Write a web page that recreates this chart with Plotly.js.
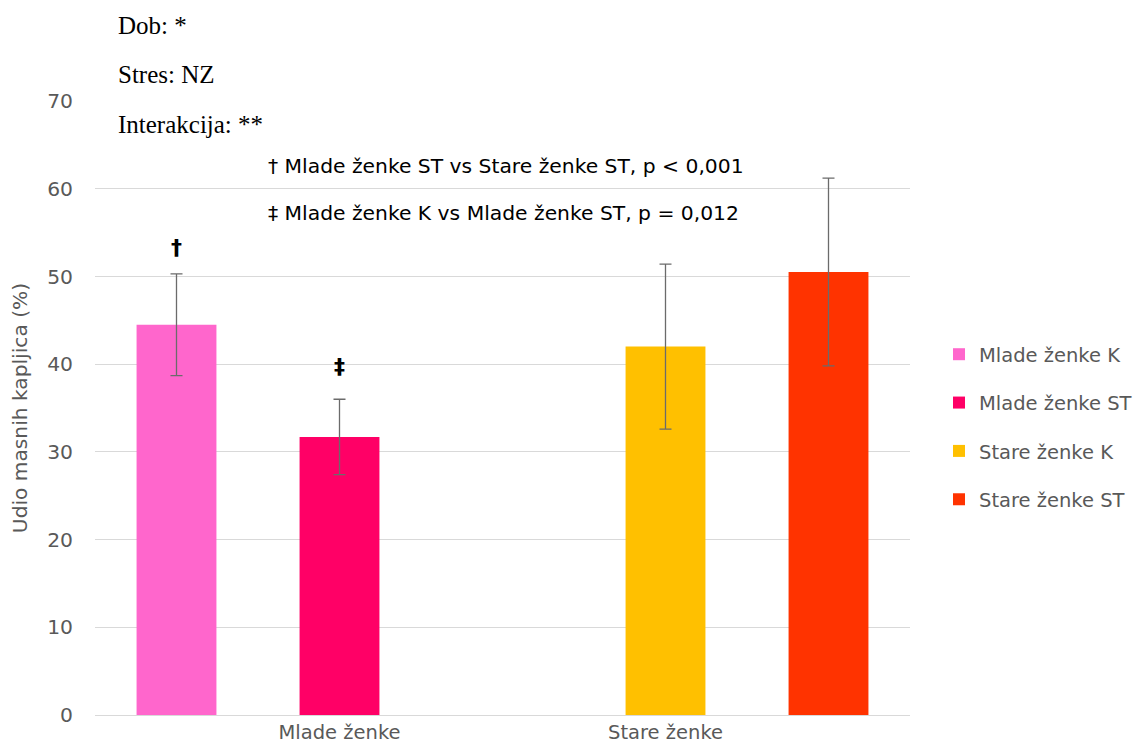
<!DOCTYPE html>
<html>
<head>
<meta charset="utf-8">
<script src="https://cdn.plot.ly/plotly-3.0.1.min.js"></script>
<style>html,body{margin:0;padding:0;background:#fff;}#chart{width:1142px;height:746px;}</style>
</head>
<body>
<div id="chart"></div>
<script>
// Data
const seriesNames = ["Mlade ženke K", "Mlade ženke ST", "Stare ženke K", "Stare ženke ST"];
const slotOrder = ["Mlade ženke K", "Mlade ženke ST", " ", "Stare ženke K", "Stare ženke ST"];
const means = [44.5, 31.7, 42.0, 50.5];
const errors = [5.8, 4.3, 9.4, 10.7];
const colors = ["#FF66CC", "#FF0066", "#FFC000", "#FF3300"];
const groupLabels = ["Mlade ženke", "Stare ženke"];
const groupTickAt = ["Mlade ženke ST", "Stare ženke K"];
const markSymbols = ["†", "‡", "", ""];
const statLines = ["Dob: *", "Stres: NZ", "Interakcija: **"];
const postHoc = ["† Mlade ženke ST vs Stare ženke ST, p < 0,001", "‡ Mlade ženke K vs Mlade ženke ST, p = 0,012"];

const SANS = "DejaVu Sans, Verdana, sans-serif";
const SERIF = "Liberation Serif, Times New Roman, serif";

const traces = seriesNames.map((name, i) => ({
  type: "bar",
  name: name,
  x: [name],
  y: [means[i]],
  width: 0.49,
  marker: {color: colors[i]},
  legendgroup: "g" + i,
  error_y: {type: "data", array: [errors[i]], visible: true, color: "#6b6b6b", thickness: 1.3, width: 6},
  hoverinfo: "y"
}));

const annotations = [];
const statY = [26, 75, 124];
statLines.forEach((t, i) => annotations.push({
  text: t, xref: "paper", yref: "paper", x: (116 - 95) / 815, y: (715 - statY[i]) / 614,
  xanchor: "left", yanchor: "middle", showarrow: false,
  font: {family: SERIF, size: 25, color: "#000"}
}));
const postY = [166, 213];
postHoc.forEach((t, i) => annotations.push({
  text: t, xref: "paper", yref: "paper", x: (266 - 95) / 815, y: (715 - postY[i]) / 614,
  xanchor: "left", yanchor: "middle", showarrow: false,
  font: {family: SANS, size: 20.3, color: "#000"}
}));
const markShift = [12, 18];
seriesNames.forEach((name, i) => {
  if (!markSymbols[i]) return;
  annotations.push({
    text: "<b>" + markSymbols[i] + "</b>", x: name, y: means[i] + errors[i], xref: "x", yref: "y",
    yanchor: "bottom", showarrow: false, yshift: markShift[i],
    font: {family: SANS, size: 22, color: "#000"}
  });
});

const layout = {
  width: 1142, height: 746,
  margin: {l: 95, r: 232, t: 101, b: 31, autoexpand: false},
  paper_bgcolor: "#fff", plot_bgcolor: "#fff",
  barmode: "overlay",
  showlegend: true,
  legend: {
    x: (939 - 95) / 815, xanchor: "left", y: 0.469, yanchor: "middle",
    traceorder: "grouped", tracegroupgap: 20,
    font: {family: SANS, size: 19.5, color: "#595959"},
    itemwidth: 30
  },
  xaxis: {
    type: "category", categoryorder: "array", categoryarray: slotOrder,
    range: [-0.5, 4.5],
    tickvals: groupTickAt, ticktext: groupLabels,
    tickfont: {family: SANS, size: 19.5, color: "#595959"},
    ticklabelstandoff: 0,
    showgrid: false, showline: true, linecolor: "#d9d9d9", linewidth: 1,
    ticks: "", fixedrange: true
  },
  yaxis: {
    range: [0, 70], dtick: 10, tick0: 0,
    showgrid: true, gridcolor: "#d9d9d9", gridwidth: 1,
    zeroline: false, showline: false, ticks: "",
    ticklabelstandoff: 21,
    tickfont: {family: SANS, size: 20.3, color: "#595959"},
    title: {text: "Udio masnih kapljica (%)", font: {family: SANS, size: 20.2, color: "#595959"}, standoff: 14},
    fixedrange: true
  },
  annotations: annotations
};

Plotly.newPlot("chart", traces, layout, {displayModeBar: false, staticPlot: true});
</script>
</body>
</html>
